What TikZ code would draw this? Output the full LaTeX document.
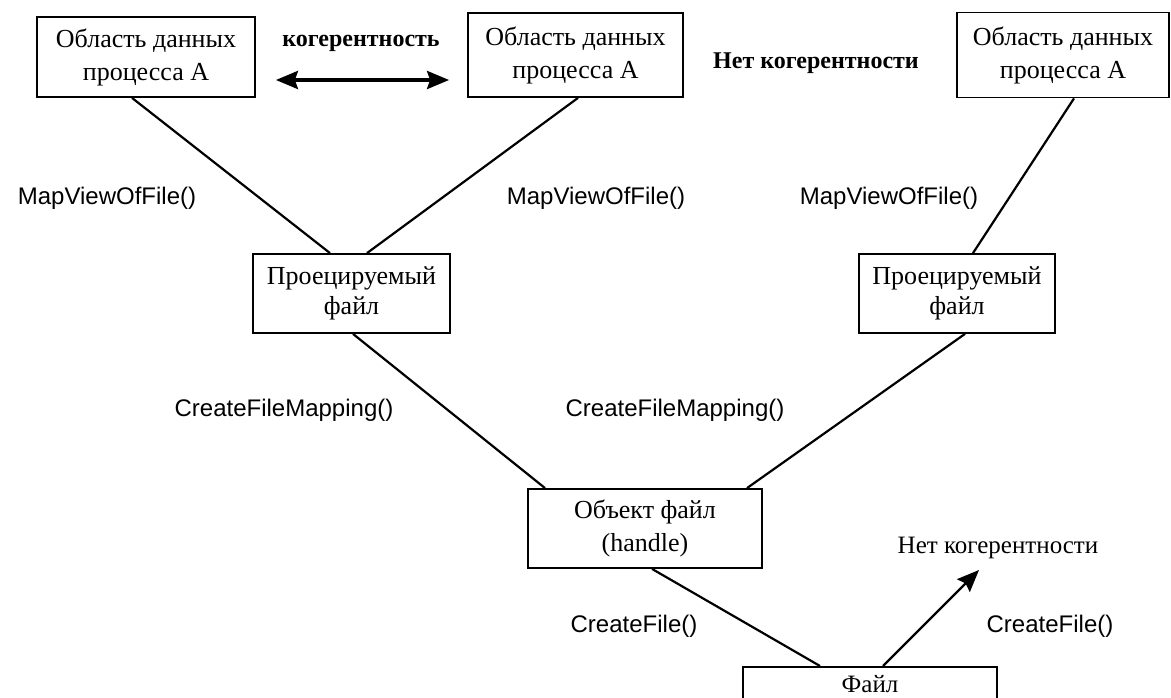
\documentclass[tikz,border=0pt]{standalone}
\usepackage{fontspec}
\setmainfont{Liberation Serif}
\newfontfamily\apifont{Liberation Sans}
\usetikzlibrary{arrows.meta,calc}

\tikzset{
  box/.style={draw, line width=1.8pt, rectangle, inner sep=0pt, align=center,
    font=\fontsize{26}{33}\selectfont},
  api/.style={font=\apifont\fontsize{24}{28}\selectfont, inner sep=0pt},
  note/.style={font=\fontsize{25}{30}\selectfont, inner sep=0pt},
  link/.style={line width=2.2pt},
  bigtip/.style={-{Stealth[length=22pt,width=18pt,inset=3pt]}}
}

\begin{document}
\begin{tikzpicture}[x=1pt,y=-1pt]
\useasboundingbox (0,0) rectangle (1171,698);
\clip (0,0) rectangle (1171,698);

% data areas of the processes
\node[box, minimum width=218pt, minimum height=80pt] (b1) at (146,57)
  {Область данных\\процесса А};
\node[box, minimum width=215pt, minimum height=84pt] (b2) at (575.5,55)
  {Область данных\\процесса А};
\node[box, minimum width=212pt, minimum height=85pt] (b3) at (1063,55)
  {Область данных\\процесса А};

% mapped files
\node[box, minimum width=197pt, minimum height=79pt, font=\fontsize{26}{30}\selectfont] (p1) at (351.5,293.5)
  {Проецируемый\\файл};
\node[box, minimum width=196pt, minimum height=79pt, font=\fontsize{26}{30}\selectfont] (p2) at (957,293.5)
  {Проецируемый\\файл};

% file object and file
\node[box, minimum width=234pt, minimum height=79pt] (obj) at (645,528.5)
  {Объект файл\\(handle)};
\node[box, minimum width=254pt, minimum height=80pt, anchor=north] (file) at (870,666) {};
\node[note] (filetext) at (870,684) {Файл};

% connectors
\draw[link] ($(b1.south)+(-14,0)$) -- ($(p1.north)+(-21.5,0)$);
\draw[link] ($(b2.south)+(2.5,0)$) -- ($(p1.north)+(15.5,0)$);
\draw[link] ($(b3.south)+(11,0)$) -- ($(p2.north)+(16,0)$);
\draw[link] ($(p1.south)+(1.5,0)$) -- ($(obj.north)+(-100,0)$);
\draw[link] ($(p2.south)+(8,0)$) -- ($(obj.north)+(102,0)$);
\draw[link] ($(obj.south)+(7,0)$) -- ($(file.north)+(-50,0)$);

\coordinate (nc) at (979,570);
\draw[link, bigtip] ($(file.north)+(13,0)$) -- (nc);

% coherence between two views
\draw[line width=3.5pt, {Stealth[length=22pt,width=18pt,inset=3pt]}-{Stealth[length=22pt,width=18pt,inset=3pt]}]
  ($(b1.east)+(20,23)$) -- ($(b2.west)+(-18,25)$);

% labels
\node[note, font=\bfseries\fontsize{24}{30}\selectfont] (coh) at (361,43) {когерентность};
\node[note, font=\bfseries\fontsize{24}{30}\selectfont] (nocoh1) at (816,63) {Нет когерентности};
\node[note] (nocoh2) at (998,548) {Нет когерентности};

\node[api] (m1) at (107,198) {MapViewOfFile()};
\node[api] (m2) at (596,198) {MapViewOfFile()};
\node[api] (m3) at (889,198) {MapViewOfFile()};

\node[api] (c1) at (284,410) {CreateFileMapping()};
\node[api] (c2) at (675,410) {CreateFileMapping()};

\node[api] (f1) at (634,626) {CreateFile()};
\node[api] (f2) at (1050,626) {CreateFile()};
\end{tikzpicture}
\end{document}
